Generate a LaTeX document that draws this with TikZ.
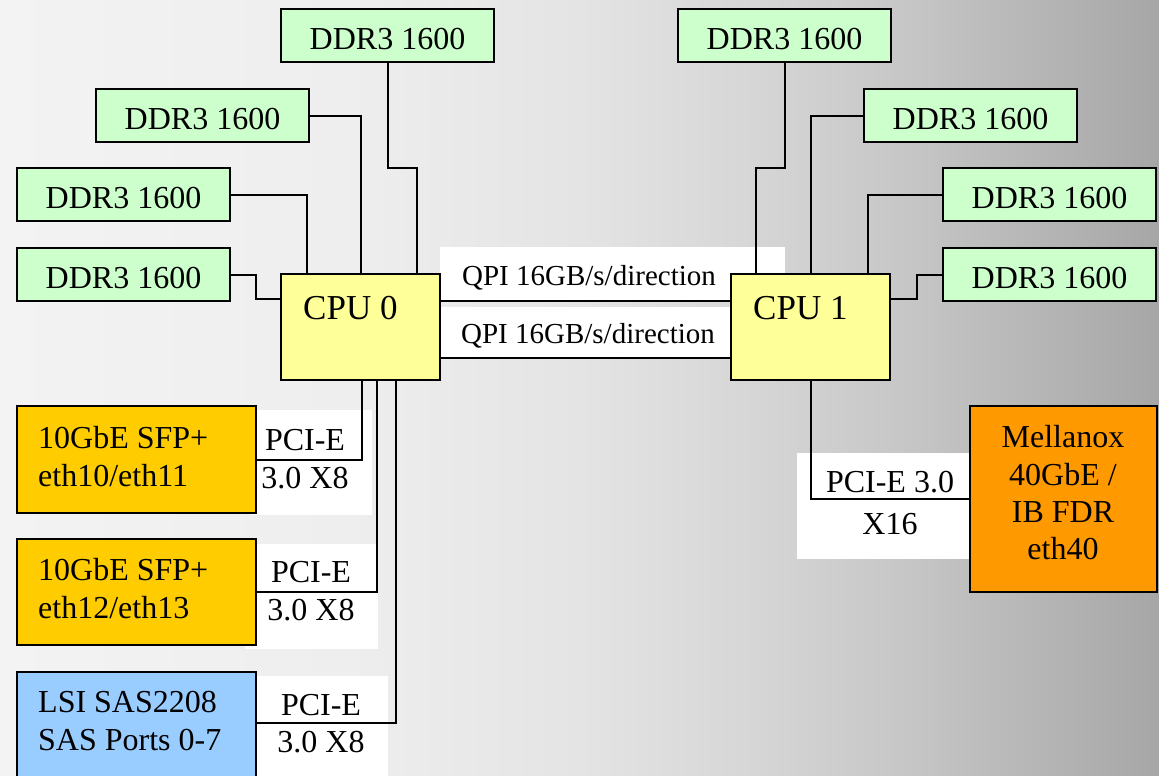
\documentclass[tikz,border=0pt]{standalone}
\usepackage{fontspec}
\setmainfont{Liberation Serif}
\definecolor{ddrgreen}{HTML}{CCFFCC}
\definecolor{cpuyellow}{HTML}{FFFF99}
\definecolor{nicorange}{HTML}{FFCC00}
\definecolor{lsiblue}{HTML}{99CCFF}
\definecolor{melorange}{HTML}{FF9900}
\definecolor{bgA}{HTML}{F3F3F3}
\definecolor{bgB}{HTML}{EEEEEE}
\definecolor{bgC}{HTML}{E4E4E4}
\definecolor{bgD}{HTML}{D6D6D6}
\definecolor{bgE}{HTML}{C4C4C4}
\definecolor{bgF}{HTML}{A6A6A6}
\pgfdeclarehorizontalshading{bgshade}{100bp}{color(0bp)=(bgA); color(25bp)=(bgA); color(40bp)=(bgB); color(50bp)=(bgC); color(57.5bp)=(bgD); color(65bp)=(bgE); color(75bp)=(bgF); color(100bp)=(bgF)}
\tikzset{
  box/.style={draw=black, line width=2pt, inner sep=0pt, outer sep=0pt, anchor=north west},
  ddrbox/.style={box, fill=ddrgreen, minimum width=213pt, minimum height=53pt,
    text height=28pt, text depth=0pt, font=\fontsize{32}{38}\selectfont},
  cpubox/.style={box, fill=cpuyellow, minimum width=159pt, minimum height=106pt},
  nicbox/.style={box, fill=nicorange, minimum width=239pt},
  lsibox/.style={box, fill=lsiblue, minimum width=239pt},
  melbox/.style={box, fill=melorange, minimum width=187pt, minimum height=186pt},
  whitebox/.style={fill=white, draw=none, inner sep=0pt, outer sep=0pt, anchor=north west},
  txt/.style={inner sep=0pt, font=\fontsize{32}{38}\selectfont},
  ltxt/.style={txt, anchor=base west},
  ctxt/.style={txt, anchor=base},
  cputxt/.style={inner sep=0pt, anchor=base west, font=\fontsize{35}{40}\selectfont},
  qpitxt/.style={inner sep=0pt, anchor=base, font=\fontsize{29}{34}\selectfont},
  wire/.style={draw=black, line width=2pt}
}
\begin{document}
\begin{tikzpicture}[x=1pt, y=-1pt]
\clip (0,0) rectangle (1159,776);
\shade[shading=bgshade] (0,0) rectangle (1159,776);

% white label backgrounds
\node[whitebox, minimum width=345pt, minimum height=54pt] (q1w) at (440,247) {};
\node[whitebox, minimum width=291pt, minimum height=51pt] (q2w) at (440,307) {};
\node[whitebox, minimum width=122pt, minimum height=105pt] (w1) at (250,410) {};
\node[whitebox, minimum width=133pt, minimum height=105pt] (w2) at (245,544) {};
\node[whitebox, minimum width=138pt, minimum height=114pt] (w3) at (250,676) {};
\node[whitebox, minimum width=178pt, minimum height=106pt] (w4) at (797,453) {};

% memory
\node[ddrbox] (d0a) at (281,9) {DDR3 1600};
\node[ddrbox] (d0b) at (96,89) {DDR3 1600};
\node[ddrbox] (d0c) at (17,168) {DDR3 1600};
\node[ddrbox] (d0d) at (17,248) {DDR3 1600};
\node[ddrbox] (d1a) at (678,9) {DDR3 1600};
\node[ddrbox] (d1b) at (864,89) {DDR3 1600};
\node[ddrbox] (d1c) at (943,168) {DDR3 1600};
\node[ddrbox] (d1d) at (943,248) {DDR3 1600};

% CPUs
\node[cpubox] (cpu0) at (281,274) {};
\node[cpubox] (cpu1) at (731,274) {};
\node[cputxt] (cpu0t) at (303,319) {CPU 0};
\node[cputxt] (cpu1t) at (753,319) {CPU 1};

% devices
\node[nicbox, minimum height=107pt] (nic1) at (17,406) {};
\node[nicbox, minimum height=106pt] (nic2) at (17,539) {};
\node[lsibox, minimum height=110pt] (lsi) at (17,672) {};
\node[melbox] (mel) at (970,406) {};

% device texts
\node[ltxt] (nic1a) at (38,448) {10GbE SFP+};
\node[ltxt] (nic1b) at (38,486) {eth10/eth11};
\node[ltxt] (nic2a) at (38,580) {10GbE SFP+};
\node[ltxt] (nic2b) at (38,618) {eth12/eth13};
\node[ltxt] (lsia) at (38,712) {LSI SAS2208};
\node[ltxt] (lsib) at (38,750) {SAS Ports 0-7};
\node[ctxt] (mela) at (1063,447) {Mellanox};
\node[ctxt] (melb) at (1063,485) {40GbE /};
\node[ctxt] (melc) at (1063,522) {IB FDR};
\node[ctxt] (meld) at (1063,559) {eth40};

% link labels
\node[qpitxt] (qpi1) at (589,285) {QPI 16GB/s/direction};
\node[qpitxt] (qpi2) at (588,343) {QPI 16GB/s/direction};
\node[ctxt] (p1a) at (305,450) {PCI-E};
\node[ctxt] (p1b) at (305,488) {3.0 X8};
\node[ctxt] (p2a) at (311,582) {PCI-E};
\node[ctxt] (p2b) at (311,620) {3.0 X8};
\node[ctxt] (p3a) at (321,715) {PCI-E};
\node[ctxt] (p3b) at (321,752) {3.0 X8};
\node[ctxt] (p4a) at (890,492) {PCI-E 3.0};
\node[ctxt] (p4b) at (890,534) {X16};

% memory wires
\coordinate (b0a) at (417,168);
\coordinate (b1a) at (756,168);
\draw[wire] (d0d.east) -- ++(26pt,0) |- ([yshift=-25pt]cpu0.north west);
\draw[wire] (d0c.east) -| ([xshift=26pt]cpu0.north west);
\draw[wire] (d0b.east) -| ([xshift=80pt]cpu0.north west);
\draw[wire] (d0a.south) |- (b0a) -- (b0a |- cpu0.north);
\draw[wire] (d1a.south) |- (b1a) -- (b1a |- cpu1.north);
\draw[wire] (d1b.west) -| ([xshift=80pt]cpu1.north west);
\draw[wire] (d1c.west) -| ([xshift=137pt]cpu1.north west);
\draw[wire] (d1d.west) -- ++(-26pt,0) |- ([yshift=-25pt]cpu1.north east);

% QPI
\draw[wire] ([yshift=-27pt]cpu0.north east) -- ([yshift=-27pt]cpu1.north west);
\draw[wire] ([yshift=-84pt]cpu0.north east) -- ([yshift=-84pt]cpu1.north west);

% PCI-E
\draw[wire] (nic1.east) -| ([xshift=81pt]cpu0.south west);
\draw[wire] (nic2.east) -| ([xshift=96pt]cpu0.south west);
\draw[wire] ([yshift=-51pt]lsi.north east) -| ([xshift=115pt]cpu0.south west);
\draw[wire] (mel.west) -| ([xshift=80pt]cpu1.south west);
\end{tikzpicture}
\end{document}
